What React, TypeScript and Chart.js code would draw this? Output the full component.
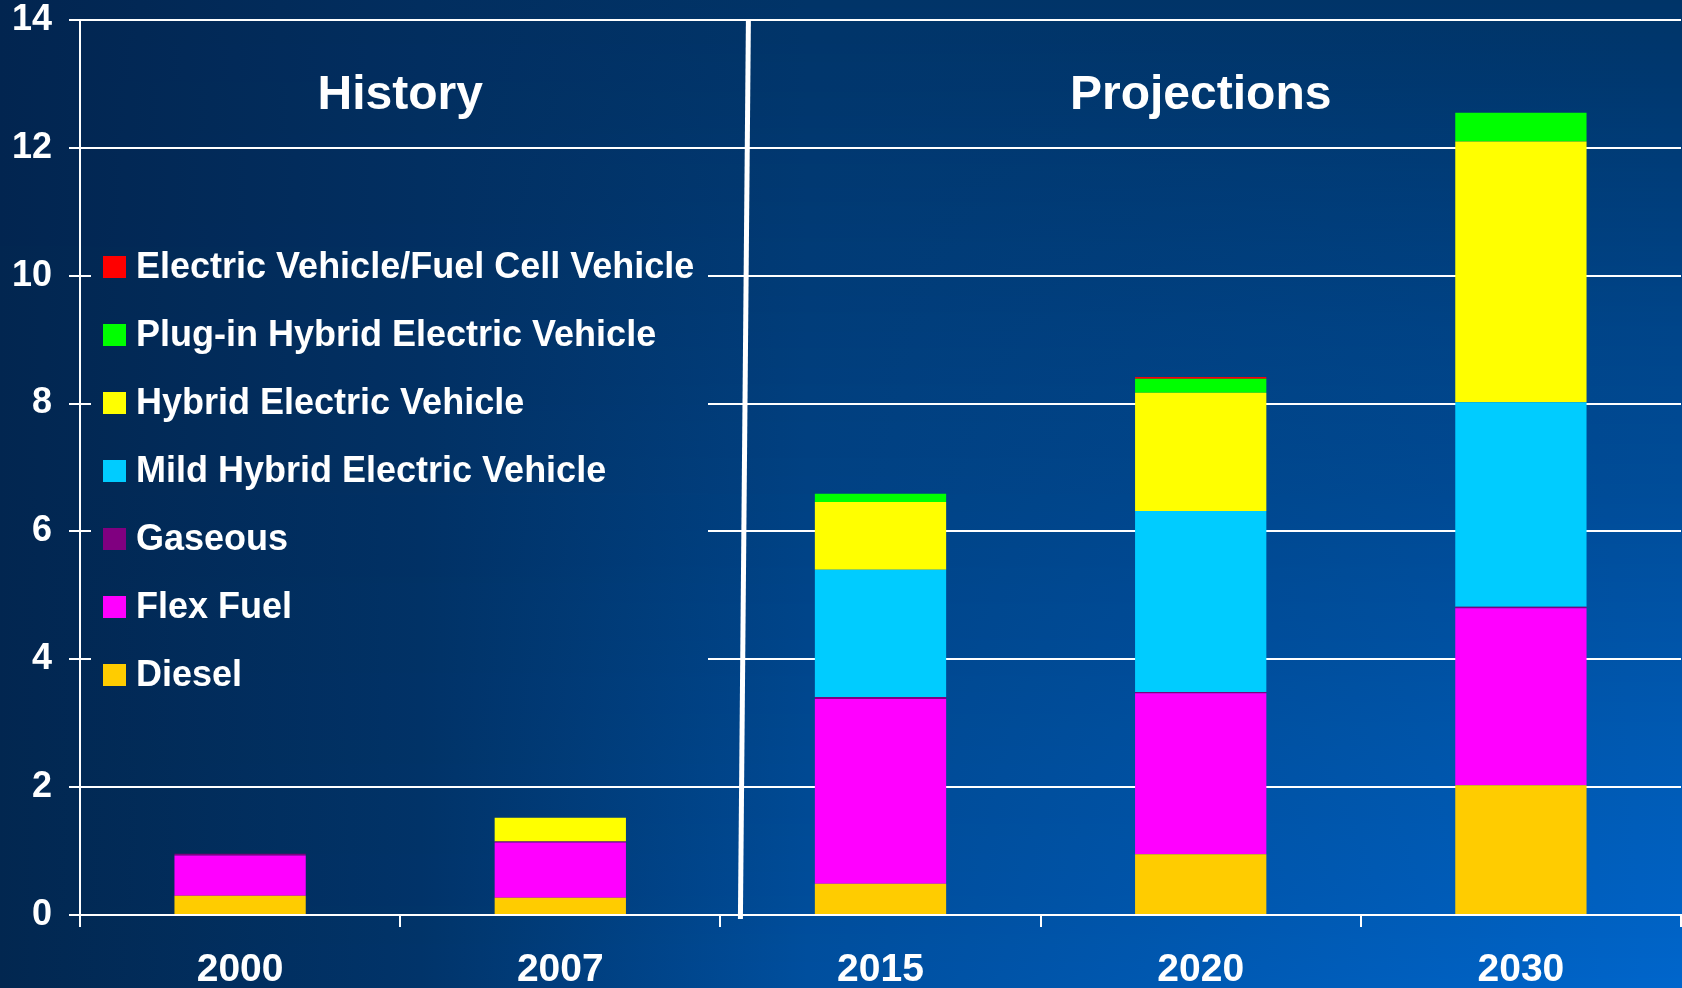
import React, { useEffect, useRef } from "react";
import { Chart, registerables } from "chart.js";

Chart.register(...registerables);

// ---------------- data ----------------
const years = ["2000", "2007", "2015", "2020", "2030"];
const diesel = [0.3, 0.27, 0.49, 0.95, 2.03];
const flexFuel = [0.63, 0.865, 2.89, 2.52, 2.77];
const gaseous = [0.03, 0.016, 0.03, 0.02, 0.02];
const mildHybrid = [0, 0, 1.99, 2.83, 3.2];
const hybrid = [0, 0.37, 1.06, 1.85, 4.08];
const plugInHybrid = [0, 0, 0.13, 0.22, 0.45];
const electricFuelCell = [0, 0, 0, 0.025, 0];

const seriesNames = [
  "Diesel",
  "Flex Fuel",
  "Gaseous",
  "Mild Hybrid Electric Vehicle",
  "Hybrid Electric Vehicle",
  "Plug-in Hybrid Electric Vehicle",
  "Electric Vehicle/Fuel Cell Vehicle",
];
const seriesValues = [diesel, flexFuel, gaseous, mildHybrid, hybrid, plugInHybrid, electricFuelCell];
const seriesColors = ["#ffcc00", "#ff00ff", "#800080", "#00ccff", "#ffff00", "#00ff00", "#ff0000"];

const sectionTitles = ["History", "Projections"];
const yMin = 0;
const yMax = 14;
const yStep = 2;

// ---------------- styling ----------------
const W = 1682;
const H = 988;
const FONT = "'Liberation Sans', Arial, Helvetica, sans-serif";

const bgStops = [0, 0.25, 0.48, 1];
const bgTop = ["#022550", "#022e5f", "#013468", "#003468"];
const bgBottom = ["#022750", "#01346a", "#004f9f", "#0066cc"];

function hexToRgb(h: string) {
  const n = parseInt(h.slice(1), 16);
  return [(n >> 16) & 255, (n >> 8) & 255, n & 255];
}
function mix(a: string, b: string, t: number) {
  const A = hexToRgb(a);
  const B = hexToRgb(b);
  const c = A.map((v, i) => Math.round(v + (B[i] - v) * t));
  return `rgb(${c[0]},${c[1]},${c[2]})`;
}

function paintBackground(ctx: CanvasRenderingContext2D, rx: number, ry: number, rw: number, rh: number) {
  ctx.save();
  const step = 2;
  for (let y = ry; y < ry + rh; y += step) {
    const t = Math.min(1, Math.max(0, (y + 1) / H));
    const g = ctx.createLinearGradient(0, 0, W, 0);
    bgStops.forEach((s, i) => g.addColorStop(s, mix(bgTop[i], bgBottom[i], t)));
    ctx.fillStyle = g;
    ctx.fillRect(rx, y, rw, step);
  }
  ctx.restore();
}

const LEGEND_BOX = { x: 91, y: 225, w: 617, h: 480 };
const LEGEND_FIRST_ROW = 267;
const LEGEND_ROW_GAP = 68;
const LEGEND_SWATCH_X = 103;
const LEGEND_SWATCH_W = 23;
const LEGEND_SWATCH_H = 22;
const LEGEND_TEXT_X = 136;
const TITLE_Y = 96;

const decorPlugin = {
  id: "decor",
  beforeDraw(chart: any) {
    paintBackground(chart.ctx, 0, 0, chart.width, chart.height);
  },
  beforeDatasetsDraw(chart: any) {
    // legend panel hides gridlines behind it
    paintBackground(chart.ctx, LEGEND_BOX.x, LEGEND_BOX.y, LEGEND_BOX.w, LEGEND_BOX.h);
  },
  afterDraw(chart: any) {
    const ctx: CanvasRenderingContext2D = chart.ctx;
    const xs = chart.scales.x;
    const area = chart.chartArea;
    const b0 = area.left;
    const b1 = (xs.getPixelForValue(1) + xs.getPixelForValue(2)) / 2;
    const b2 = area.right;

    // divider between history and projections
    ctx.save();
    ctx.strokeStyle = "#ffffff";
    ctx.lineWidth = 5;
    ctx.beginPath();
    ctx.moveTo(b1 + 28, area.top);
    ctx.lineTo(b1 + 20, area.bottom + 4);
    ctx.stroke();

    // section titles
    ctx.fillStyle = "#ffffff";
    ctx.font = `bold 48px ${FONT}`;
    ctx.textAlign = "center";
    ctx.textBaseline = "middle";
    ctx.fillText(sectionTitles[0], (b0 + b1) / 2, TITLE_Y);
    ctx.fillText(sectionTitles[1], (b1 + b2) / 2, TITLE_Y);

    // legend (top = last dataset)
    const ds = chart.data.datasets.slice().reverse();
    ctx.textAlign = "left";
    ctx.font = `bold 36px ${FONT}`;
    ds.forEach((d: any, i: number) => {
      const cy = LEGEND_FIRST_ROW + i * LEGEND_ROW_GAP;
      ctx.fillStyle = d.backgroundColor;
      ctx.fillRect(LEGEND_SWATCH_X, cy - LEGEND_SWATCH_H / 2, LEGEND_SWATCH_W, LEGEND_SWATCH_H);
      ctx.fillStyle = "#ffffff";
      ctx.fillText(d.label, LEGEND_TEXT_X, cy + 1);
    });
    ctx.restore();
  },
};

export default function App() {
  const canvasRef = useRef<HTMLCanvasElement | null>(null);

  useEffect(() => {
    document.body.style.margin = "0";
    const canvas = canvasRef.current;
    if (!canvas) return;
    const chart = new Chart(canvas, {
      type: "bar",
      data: {
        labels: years,
        datasets: seriesNames.map((name, i) => ({
          label: name,
          data: seriesValues[i],
          backgroundColor: seriesColors[i],
          borderWidth: 0,
          barPercentage: 0.41,
          categoryPercentage: 1,
        })),
      },
      options: {
        responsive: false,
        animation: false,
        layout: { padding: { top: 0, right: 1, left: 0, bottom: 0 } },
        plugins: {
          legend: { display: false },
          tooltip: { enabled: false },
        },
        scales: {
          x: {
            stacked: true,
            offset: true,
            grid: {
              offset: true,
              drawOnChartArea: false,
              drawTicks: true,
              tickLength: 12,
              color: "#ffffff",
              lineWidth: 2,
            },
            border: { display: true, color: "#ffffff", width: 2 },
            ticks: {
              color: "#ffffff",
              font: { family: FONT, size: 39, weight: "bold", lineHeight: 1 },
              padding: 24,
              maxRotation: 0,
            },
            afterFit: (s: any) => {
              s.height = 73;
            },
          },
          y: {
            stacked: true,
            min: yMin,
            max: yMax,
            ticks: {
              stepSize: yStep,
              color: "#ffffff",
              font: { family: FONT, size: 36, weight: "bold", lineHeight: 1.1 },
              padding: 17,
            },
            grid: { color: "#ffffff", lineWidth: 2, tickLength: 11 },
            border: { display: true, color: "#ffffff", width: 2 },
            afterFit: (s: any) => {
              s.width = 80;
              s.paddingTop = 20;
              s.paddingBottom = 0;
            },
          },
        },
      } as any,
      plugins: [decorPlugin],
    });
    return () => chart.destroy();
  }, []);

  return (
    <div style={{ width: W, height: H }}>
      <canvas ref={canvasRef} width={W} height={H} style={{ display: "block" }} />
    </div>
  );
}
